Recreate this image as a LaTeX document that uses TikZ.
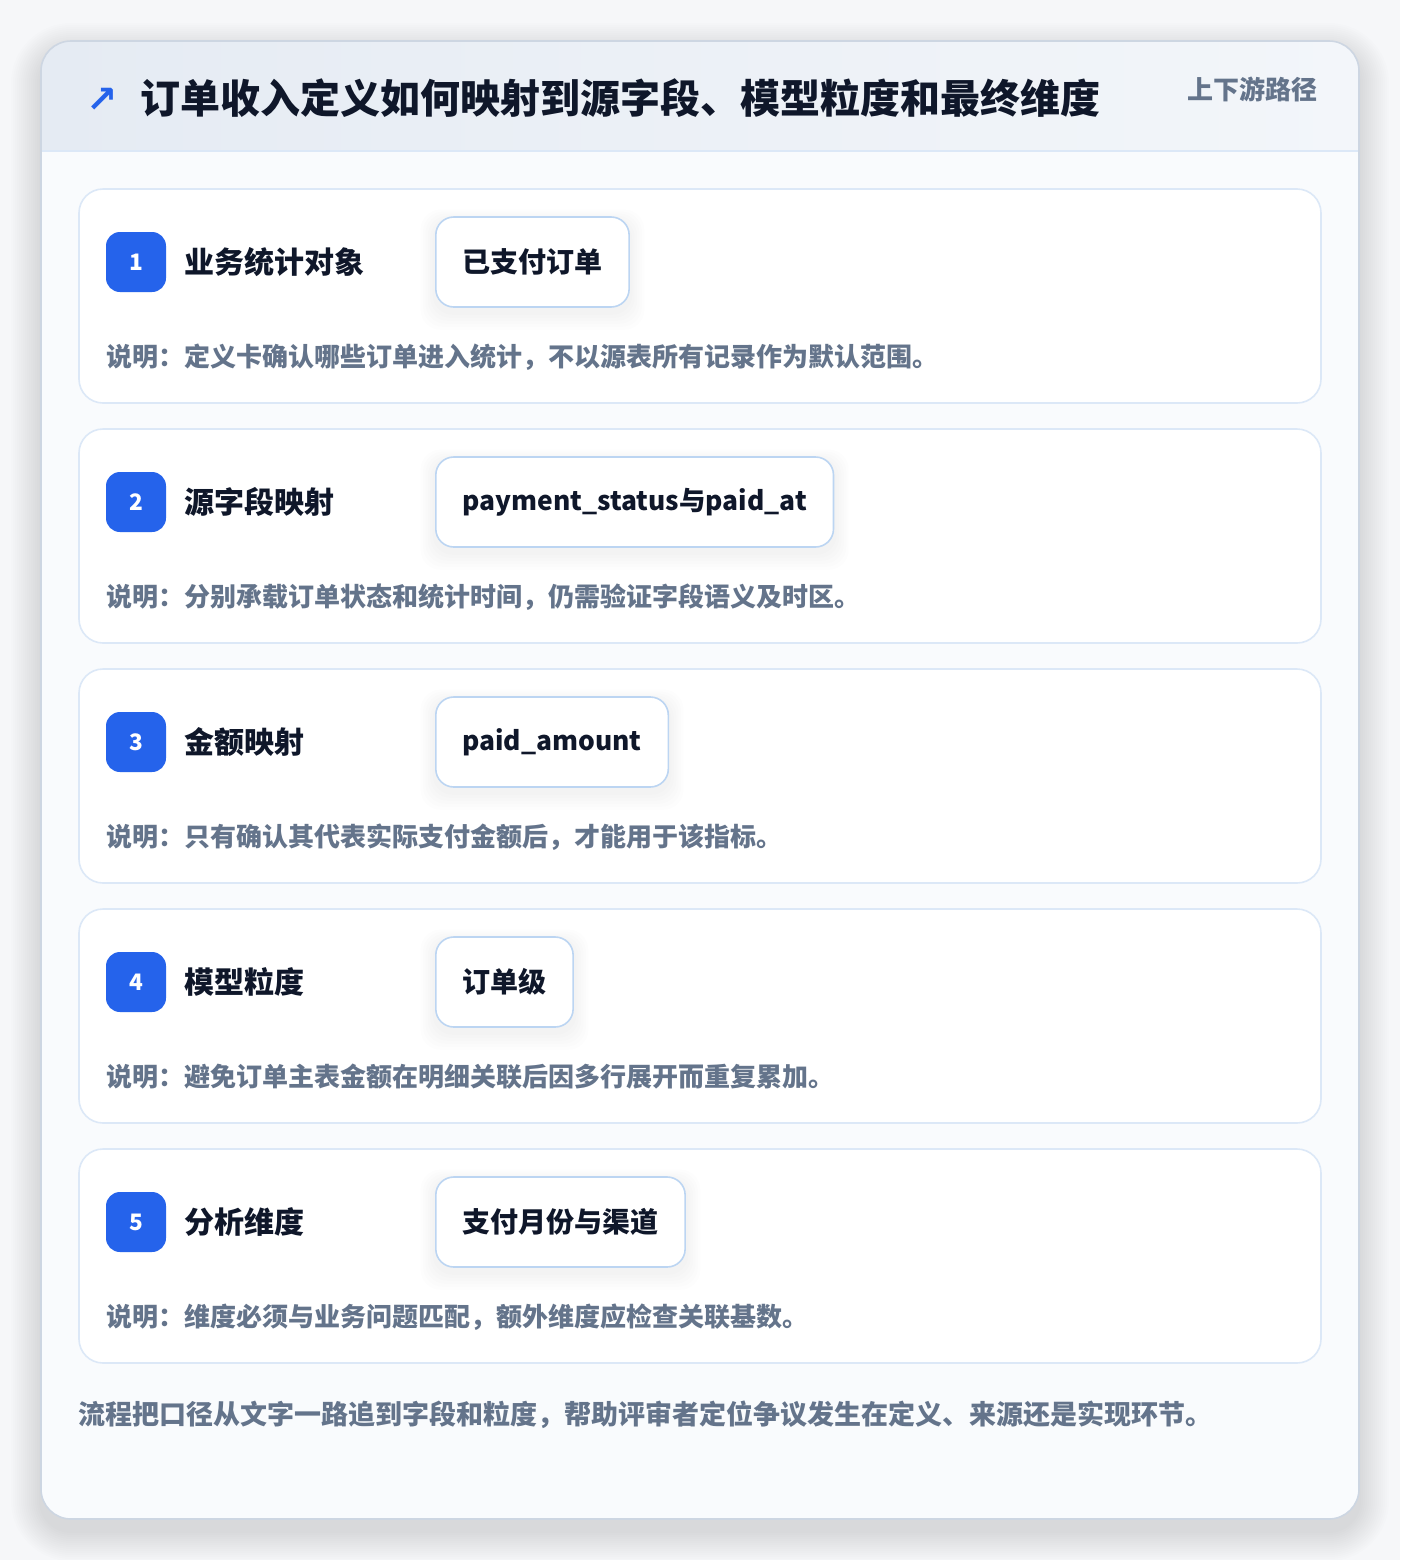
\documentclass[tikz,border=0pt]{standalone}
\usepackage{fontspec}
\setmainfont{Noto Sans CJK SC}
\newfontfamily\symfont{DejaVu Sans}
\newcommand\codesize{\fontsize{19.8}{24}\selectfont}
\usetikzlibrary{positioning}

\definecolor{ink}{HTML}{0F172A}
\definecolor{muted}{HTML}{64748B}
\definecolor{accent}{HTML}{2563EB}
\definecolor{cardline}{HTML}{DCE8F7}
\definecolor{chipline}{HTML}{BCD5F2}
\definecolor{panelline}{HTML}{CDD6E2}
\definecolor{headL}{HTML}{E5EBF3}
\definecolor{headR}{HTML}{F3F6FA}
\definecolor{bodybg}{HTML}{F9FBFD}
\definecolor{pagebg}{HTML}{F6F7F9}

\pgfdeclarelayer{cardlayer}
\pgfdeclarelayer{shadowlayer}
\pgfsetlayers{cardlayer,shadowlayer,main}

\begin{document}
\begin{tikzpicture}
[
x=0.75pt, y=-0.75pt,
card/.style={draw=cardline, line width=1.2pt, fill=white, rounded corners=18pt,
  minimum width=931.5pt, minimum height=160.5pt, inner sep=0pt},
badge/.style={fill=accent, text=white, rounded corners=10.5pt, minimum size=45pt,
  inner sep=0pt, font=\bfseries\fontsize{17}{19}\selectfont},
itemlabel/.style={anchor=west, inner sep=0pt, text=ink, font=\bfseries\fontsize{22.5}{26}\selectfont},
chip/.style={anchor=west, draw=chipline, line width=1.2pt, fill=white, rounded corners=13.5pt,
  minimum height=67.5pt, inner xsep=20pt, text=ink, font=\bfseries\fontsize{21}{24}\selectfont},
note/.style={anchor=west, inner sep=0pt, text=muted, font=\bfseries\fontsize{19.5}{23}\selectfont}
]
\begin{pgfonlayer}{cardlayer}
\useasboundingbox (0,0) rectangle (1400,1560);
\fill[pagebg] (0,0) rectangle (1400,1560);

\foreach \s in {2,4,...,30}
  \fill[black, opacity=0.006, rounded corners=22.5pt+\s*0.75pt] (41-\s,41-\s+12) rectangle (1359+\s,1519+\s+12);

\fill[bodybg, rounded corners=22.5pt] (41,41) rectangle (1359,1519);
\begin{scope}
\clip[rounded corners=22.5pt] (41,41) rectangle (1359,1519);
\shade[left color=headL, right color=headR] (41,41) rectangle (1359,151);
\end{scope}
\coordinate (sepL) at (41,151);
\coordinate (sepR) at (1359,151);
\draw[cardline, line width=1.2pt] (sepL) -- (sepR);
\draw[panelline, line width=1.2pt, rounded corners=22.5pt] (41,41) rectangle (1359,1519);
\end{pgfonlayer}

\node[text=accent, inner sep=0pt, font=\symfont\bfseries\fontsize{28}{30}\selectfont] (icon) at (102,100) {↗};
\node[anchor=west, inner sep=0pt, text=ink, font=\bfseries\fontsize{30}{34}\selectfont] (title) at (140,98)
  {订单收入定义如何映射到源字段、模型粒度和最终维度};
\node[anchor=east, inner sep=0pt, text=muted, font=\bfseries\fontsize{19.5}{23}\selectfont] (tag) at (1318,89) {上下游路径};

\foreach \i/\lab/\val/\txt in {
  1/业务统计对象/已支付订单/说明：定义卡确认哪些订单进入统计，不以源表所有记录作为默认范围。,
  2/源字段映射/{\codesize payment\_status与paid\_at}/说明：分别承载订单状态和统计时间，仍需验证字段语义及时区。,
  3/金额映射/{\codesize paid\_amount}/说明：只有确认其代表实际支付金额后，才能用于该指标。,
  4/模型粒度/订单级/说明：避免订单主表金额在明细关联后因多行展开而重复累加。,
  5/分析维度/支付月份与渠道/说明：维度必须与业务问题匹配，额外维度应检查关联基数。}
{
  \pgfmathsetmacro\top{189+240*(\i-1)}
  \begin{pgfonlayer}{cardlayer}
  \node[card] (card\i) at (700,\top+107) {};
  \end{pgfonlayer}
  \node[badge] (badge\i) at (136,\top+73) {\i};
  \node[itemlabel] (label\i) at (184,\top+73) {\lab};
  \node[chip] (chip\i) at (435,\top+73) {\val};
  \begin{pgfonlayer}{shadowlayer}
  \foreach \s in {3,6,...,18}
    \fill[black, opacity=0.006, rounded corners=15pt]
      ([xshift=-\s*0.6pt, yshift=-\s*0.75pt-3pt] chip\i.south west) rectangle ([xshift=\s*0.6pt, yshift=\s*0.5pt-4pt] chip\i.north east);
  \end{pgfonlayer}
  \node[note] (note\i) at (106,\top+168) {\txt};
}

\node[anchor=west, inner sep=0pt, text=muted, font=\bfseries\fontsize{20.25}{24}\selectfont] (footer) at (78,1415)
  {流程把口径从文字一路追到字段和粒度，帮助评审者定位争议发生在定义、来源还是实现环节。};
\end{tikzpicture}
\end{document}
